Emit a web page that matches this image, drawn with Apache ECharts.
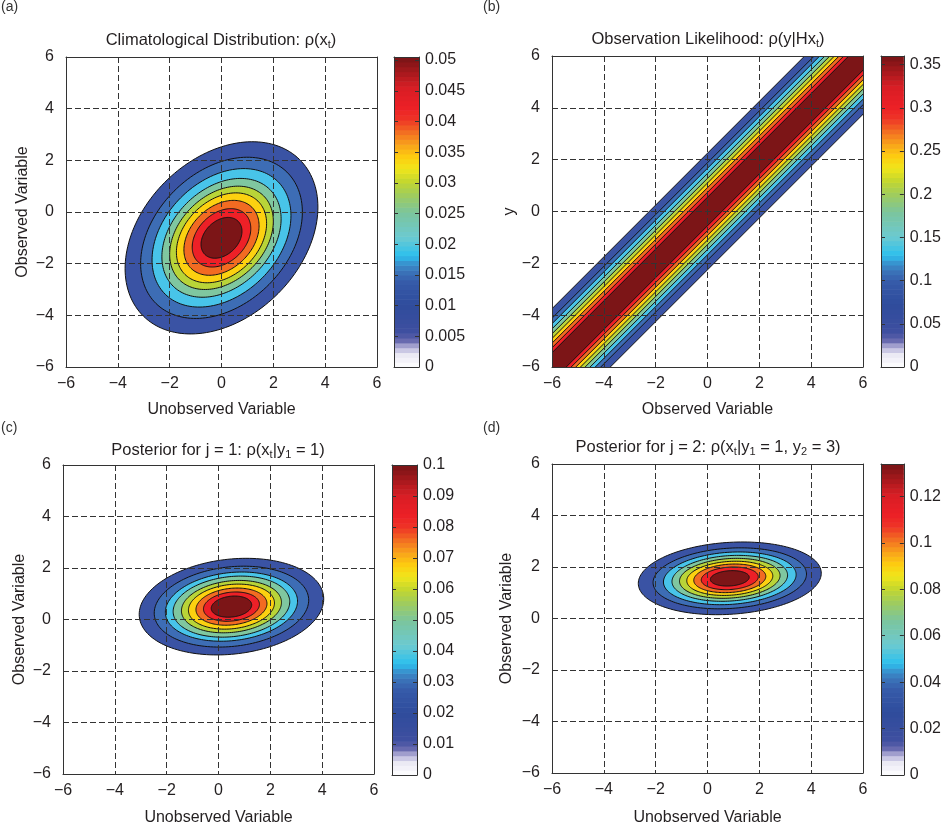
<!DOCTYPE html>
<html><head><meta charset="utf-8">
<script src="https://cdn.jsdelivr.net/npm/echarts@6/dist/echarts.min.js"></script>
<style>html,body{margin:0;padding:0;background:#fff}#c{width:944px;height:827px}</style>
</head><body><div id="c"></div>
<script>
// ---------- data ----------
const axisTicks = [-6, -4, -2, 0, 2, 4, 6];

// fill colour of each contour band, outermost (lowest level) to innermost
const bandColors = ['#3a53a4', '#3d6db5', '#48c4e9', '#7fc7a0', '#b9d438', '#fcd110', '#f26b22', '#ed2027', '#7c1517'];

// colour bar colormap (position as fraction of the bar, colour)
const cmapPos = [0, 0.04, 0.065, 0.085, 0.11, 0.2, 0.27, 0.3, 0.33, 0.36, 0.42, 0.5, 0.56, 0.6, 0.64, 0.68, 0.72, 0.76, 0.8, 0.84, 0.9, 0.95, 1];
const cmapCol = ['#ffffff', '#ebe9f4', '#b3b1d8', '#6a6bb0', '#3f4fa0', '#2f4c9c', '#3559a8', '#3a6cb4', '#3a8bc9', '#2cc0ee', '#6ccad0', '#7cc59c', '#a2cd58', '#c4d72e', '#f0e61b', '#fdcb10', '#f8a01b', '#f26c22', '#ee3326', '#ec1f26', '#d81e25', '#a8191d', '#761416'];

// (a) climatological distribution
const levelsA = [0.005, 0.01, 0.015, 0.02, 0.025, 0.03, 0.035, 0.04, 0.045];
const halfWidthA = [3.72, 3.12, 2.68, 2.30, 2.00, 1.74, 1.45, 1.13, 0.79];
const centerA = [0, -1];
const aspectA = 1.0;
const tiltA = 0.32;
const cbMaxA = 0.0505;
const cbTicksA = [0, 0.005, 0.01, 0.015, 0.02, 0.025, 0.03, 0.035, 0.04, 0.045, 0.05];

// (b) observation likelihood (band around y = x)
const levelsB = [0.036, 0.072, 0.108, 0.144, 0.18, 0.216, 0.252, 0.288, 0.324];
const bandHalfB = [2.25, 1.88, 1.67, 1.47, 1.28, 1.10, 0.92, 0.74, 0.55];
const cbMaxB = 0.36;
const cbTicksB = [0, 0.05, 0.1, 0.15, 0.2, 0.25, 0.3, 0.35];

// (c) posterior j = 1
const levelsC = [0.01, 0.02, 0.03, 0.04, 0.05, 0.06, 0.07, 0.08, 0.09];
const halfWidthC = [3.56, 2.98, 2.55, 2.25, 1.93, 1.66, 1.37, 1.08, 0.78];
const centerC = [0.5, 0.5];
const aspectC = 0.527;
const tiltC = 0.16;
const cbMaxC = 0.1;
const cbTicksC = [0, 0.01, 0.02, 0.03, 0.04, 0.05, 0.06, 0.07, 0.08, 0.09, 0.1];

// (d) posterior j = 2
const levelsD = [0.0134, 0.0268, 0.0402, 0.0536, 0.067, 0.0804, 0.0938, 0.1072, 0.1206];
const halfWidthD = [3.53, 2.96, 2.56, 2.23, 1.94, 1.66, 1.39, 1.10, 0.75];
const centerD = [0.86, 1.56];
const aspectD = 0.40;
const tiltD = 0.14;
const cbMaxD = 0.134;
const cbTicksD = [0, 0.02, 0.04, 0.06, 0.08, 0.1, 0.12];

// ---------- rendering ----------
const FONT = '"Liberation Sans", Arial, Helvetica, sans-serif';
const TXT = '#231f20';
const LINE = '#333';
const CB_STEPS = 64;

function hex(c) { return [1, 3, 5].map(i => parseInt(c.substr(i, 2), 16)); }
function cmap(f) {
  for (let i = 1; i < cmapPos.length; i++) {
    if (f <= cmapPos[i]) {
      const t = (f - cmapPos[i - 1]) / (cmapPos[i] - cmapPos[i - 1]);
      const a = hex(cmapCol[i - 1]), b = hex(cmapCol[i]);
      return 'rgb(' + a.map((v, k) => Math.round(v + (b[k] - v) * t)).join(',') + ')';
    }
  }
  return cmapCol[cmapCol.length - 1];
}

const fmtMinus = v => String(v).replace('-', '\u2212');

const xAxes = [], yAxes = [], series = [];
const grids = [
  { left: 66, top: 57, width: 311, height: 310 },
  { left: 394, top: 57, width: 25, height: 310 },
  { left: 552, top: 56, width: 311, height: 311 },
  { left: 881, top: 56, width: 25, height: 311 },
  { left: 63, top: 465, width: 311, height: 310 },
  { left: 392, top: 465, width: 25, height: 310 },
  { left: 552, top: 464, width: 311, height: 311 },
  { left: 881, top: 464, width: 25, height: 311 }
];

function frameLine() { return { show: true, onZero: false, lineStyle: { color: LINE, width: 1 } }; }

function addPlotAxes(gi, xName, yName, xGap, yGap) {
  const base = { type: 'value', gridIndex: gi, min: axisTicks[0], max: axisTicks[axisTicks.length - 1], interval: axisTicks[1] - axisTicks[0], z: 5 };
  xAxes.push(Object.assign({}, base, {
    position: 'bottom', name: xName, nameLocation: 'middle', nameGap: xGap,
    nameTextStyle: { fontSize: 16, color: TXT, fontFamily: FONT },
    axisLine: frameLine(), axisTick: { show: false },
    axisLabel: { fontSize: 16, color: TXT, fontFamily: FONT, margin: 9, formatter: fmtMinus },
    splitLine: { show: true, lineStyle: { color: LINE, width: 1, type: [6, 3] } }
  }));
  xAxes.push(Object.assign({}, base, { position: 'top', axisLine: frameLine(), axisTick: { show: false }, axisLabel: { show: false }, splitLine: { show: false } }));
  yAxes.push(Object.assign({}, base, {
    position: 'left', name: yName, nameLocation: 'middle', nameGap: yGap,
    nameTextStyle: { fontSize: 16, color: TXT, fontFamily: FONT },
    axisLine: frameLine(), axisTick: { show: false },
    axisLabel: { fontSize: 16, color: TXT, fontFamily: FONT, margin: 12, formatter: fmtMinus },
    splitLine: { show: true, lineStyle: { color: LINE, width: 1, type: [6, 3] } }
  }));
  yAxes.push(Object.assign({}, base, { position: 'right', axisLine: frameLine(), axisTick: { show: false }, axisLabel: { show: false }, splitLine: { show: false } }));
}

function addBarAxes(gi, max, ticks) {
  const bx = { type: 'value', gridIndex: gi, min: 0, max: 1, z: 5, axisTick: { show: false }, axisLabel: { show: false }, splitLine: { show: false }, axisLine: frameLine() };
  xAxes.push(Object.assign({}, bx, { position: 'bottom' }));
  xAxes.push(Object.assign({}, bx, { position: 'top' }));
  const by = { type: 'value', gridIndex: gi, min: 0, max: max, z: 5, splitLine: { show: false }, axisLine: frameLine() };
  yAxes.push(Object.assign({}, by, {
    position: 'right',
    axisTick: { show: true, inside: true, length: 4, customValues: ticks, lineStyle: { color: LINE } },
    axisLabel: { show: true, customValues: ticks, fontSize: 16, color: TXT, fontFamily: FONT, margin: 6, formatter: v => String(v) }
  }));
  yAxes.push(Object.assign({}, by, {
    position: 'left',
    axisTick: { show: true, inside: true, length: 4, customValues: ticks, lineStyle: { color: LINE } },
    axisLabel: { show: false }
  }));
}

function ellipseRender(center, aspect, tilt) {
  const s = Math.sqrt(1 - tilt * tilt);
  return function (params, api) {
    const a = api.value(1), b = a * aspect;
    const pts = [];
    for (let i = 0; i < 160; i++) {
      const t = i / 160 * 2 * Math.PI;
      pts.push(api.coord([center[0] + a * Math.cos(t), center[1] + b * (tilt * Math.cos(t) + s * Math.sin(t))]));
    }
    return { type: 'polygon', shape: { points: pts }, style: { fill: bandColors[params.dataIndex], stroke: '#111', lineWidth: 1 } };
  };
}

function bandRender(params, api) {
  const d = api.value(1);
  const cs = params.coordSys;
  const pts = [[-10, -10 + d], [10, 10 + d], [10, 10 - d], [-10, -10 - d]].map(p => api.coord(p));
  return {
    type: 'group',
    clipPath: { type: 'rect', shape: { x: cs.x, y: cs.y, width: cs.width, height: cs.height } },
    children: [{ type: 'polygon', shape: { points: pts }, style: { fill: bandColors[params.dataIndex], stroke: '#111', lineWidth: 1 } }]
  };
}

function barRender(max) {
  return function (params, api) {
    const i = api.value(0);
    const p0 = api.coord([0, i * max / CB_STEPS]);
    const p1 = api.coord([1, (i + 1) * max / CB_STEPS]);
    return { type: 'rect', shape: { x: p0[0], y: p1[1], width: p1[0] - p0[0], height: p0[1] - p1[1] + 0.6 }, style: { fill: cmap((i + 0.5) / CB_STEPS) } };
  };
}

const stepData = Array.from({ length: CB_STEPS }, (_, i) => [i, 0]);

function addBarSeries(p, max) {
  series.push({ type: 'custom', xAxisIndex: 4 * p + 2, yAxisIndex: 4 * p + 2, renderItem: barRender(max), data: stepData, silent: true, animation: false, z: 2 });
}

// panel a
addPlotAxes(0, 'Unobserved Variable', 'Observed Variable', 35, 35);
addBarAxes(1, cbMaxA, cbTicksA);
series.push({ type: 'custom', xAxisIndex: 0, yAxisIndex: 0, renderItem: ellipseRender(centerA, aspectA, tiltA), data: levelsA.map((L, i) => [L, halfWidthA[i]]), animation: false, silent: true, z: 2 });
addBarSeries(0, cbMaxA);
// panel b
addPlotAxes(2, 'Observed Variable', 'y', 35, 29);
addBarAxes(3, cbMaxB, cbTicksB);
series.push({ type: 'custom', xAxisIndex: 4, yAxisIndex: 4, renderItem: bandRender, clip: true, data: levelsB.map((L, i) => [L, bandHalfB[i]]), animation: false, silent: true, z: 2 });
addBarSeries(1, cbMaxB);
// panel c
addPlotAxes(4, 'Unobserved Variable', 'Observed Variable', 36, 35);
addBarAxes(5, cbMaxC, cbTicksC);
series.push({ type: 'custom', xAxisIndex: 8, yAxisIndex: 8, renderItem: ellipseRender(centerC, aspectC, tiltC), data: levelsC.map((L, i) => [L, halfWidthC[i]]), animation: false, silent: true, z: 2 });
addBarSeries(2, cbMaxC);
// panel d
addPlotAxes(6, 'Unobserved Variable', 'Observed Variable', 37, 37);
addBarAxes(7, cbMaxD, cbTicksD);
series.push({ type: 'custom', xAxisIndex: 12, yAxisIndex: 12, renderItem: ellipseRender(centerD, aspectD, tiltD), data: levelsD.map((L, i) => [L, halfWidthD[i]]), animation: false, silent: true, z: 2 });
addBarSeries(3, cbMaxD);

const rich = {
  n: { fontSize: 16.5, fontFamily: FONT, fill: TXT, color: TXT },
  s: { fontSize: 11, fontFamily: FONT, fill: TXT, color: TXT, padding: [9, 0, 0, 0] }
};
function title(x, y, text) {
  return { type: 'text', x: x, y: y, z: 10, style: { text: text, rich: rich, align: 'center', verticalAlign: 'middle', fill: TXT } };
}
function letter(x, y, t) {
  return { type: 'text', x: x, y: y, z: 10, style: { text: t, fontSize: 14, fontFamily: FONT, fill: '#333', align: 'left', verticalAlign: 'top' } };
}

const chart = echarts.init(document.getElementById('c'));
chart.setOption({
  backgroundColor: '#fff',
  animation: false,
  textStyle: { fontFamily: FONT },
  grid: grids,
  xAxis: xAxes,
  yAxis: yAxes,
  series: series,
  graphic: [
    letter(1, 0, '(a)'), letter(483, 0, '(b)'), letter(1, 421, '(c)'), letter(483, 421, '(d)'),
    title(221, 40, '{n|Climatological Distribution: ρ(x}{s|t}{n|)}'),
    title(708, 39, '{n|Observation Likelihood: ρ(y|Hx}{s|t}{n|)}'),
    title(218, 450, '{n|Posterior for j = 1: ρ(x}{s|t}{n||y}{s|1}{n| = 1)}'),
    title(708, 447, '{n|Posterior for j = 2: ρ(x}{s|t}{n||y}{s|1}{n| = 1, y}{s|2}{n| = 3)}')
  ]
});
</script>
</body></html>
